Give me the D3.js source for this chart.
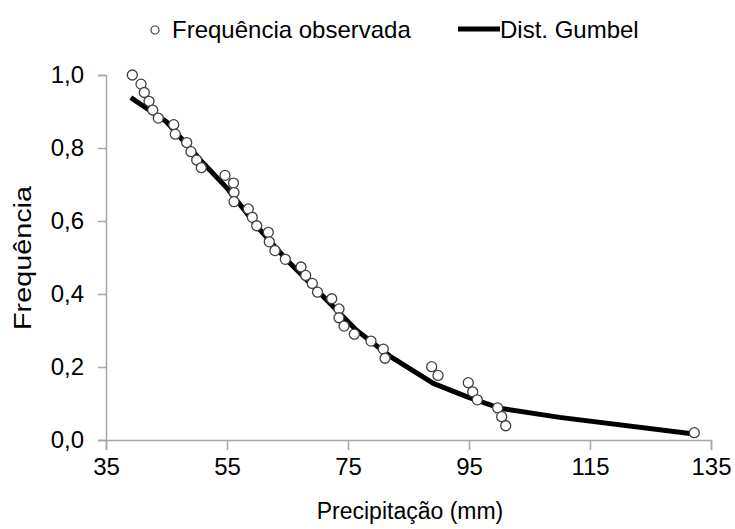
<!DOCTYPE html>
<html><head><meta charset="utf-8">
<script src="https://cdn.jsdelivr.net/npm/d3@7"></script>
<style>body{margin:0;background:#fff}svg{display:block}text{font-family:"Liberation Sans",Arial,sans-serif;fill:#000}</style>
</head><body><svg id="c" width="735" height="529"></svg>
<script>
const obsPrecip = [39.35,40.79,41.33,42.11,42.72,43.64,46.19,46.45,48.34,49.05,49.99,50.75,54.67,56.07,56.16,56.16,58.52,59.18,59.91,61.83,61.99,62.93,64.64,67.23,68.01,69.10,69.96,72.31,73.51,73.51,74.34,76.04,78.80,80.83,81.12,88.83,89.88,94.88,95.61,96.37,99.74,100.40,101.07,132.24];
const obsFreq = [1.0,0.975,0.952,0.928,0.904,0.882,0.864,0.838,0.815,0.790,0.767,0.746,0.725,0.704,0.678,0.653,0.633,0.610,0.587,0.569,0.543,0.519,0.495,0.474,0.451,0.429,0.405,0.387,0.359,0.335,0.312,0.290,0.271,0.249,0.224,0.201,0.177,0.157,0.132,0.110,0.088,0.064,0.039,0.020];
const gumbelPrecip = [39.1,45.0,51.1,55.0,60.5,64.9,70.9,76.4,81.9,89.1,94.6,100.1,110.0,131.5];
const gumbelFreq = [0.938,0.872,0.758,0.690,0.575,0.493,0.393,0.301,0.230,0.155,0.119,0.087,0.062,0.018];
const xTicks = [35,55,75,95,115,135];
const yTicks = [0,0.2,0.4,0.6,0.8,1.0];
const legendLabels = ["Frequência observada","Dist. Gumbel"];
const xTitle = "Precipitação (mm)";
const yTitle = "Frequência";

const svg = d3.select("#c");
const x = d3.scaleLinear().domain([35,135]).range([106,711]);
const y = d3.scaleLinear().domain([0,1]).range([440,75]);
const fmt = d => d3.format(".1f")(d).replace(".",",");
const axisColor = "#a6a6a6";

const xa = svg.append("g").attr("transform","translate(0,440)")
  .call(d3.axisBottom(x).tickValues(xTicks).tickSize(10).tickPadding(8).tickFormat(d3.format("d")));
const ya = svg.append("g").attr("transform","translate(106,0)")
  .call(d3.axisLeft(y).tickValues(yTicks).tickSize(8).tickPadding(14).tickFormat(fmt));
[xa,ya].forEach(a=>{
  a.select(".domain").attr("stroke",axisColor).attr("stroke-width",1.5);
  a.selectAll(".tick line").attr("stroke",axisColor).attr("stroke-width",1.5);
  a.selectAll(".tick text").attr("font-size",24).attr("font-family","Liberation Sans, Arial, sans-serif").attr("fill","#000");
});

const line = d3.line().x((d,i)=>x(gumbelPrecip[i])).y((d,i)=>y(gumbelFreq[i]));
svg.append("path").datum(gumbelPrecip).attr("d",line).attr("fill","none")
  .attr("stroke","#000").attr("stroke-width",5).attr("stroke-linejoin","round");

svg.append("g").selectAll("circle").data(obsPrecip).join("circle")
  .attr("cx",d=>x(d)).attr("cy",(d,i)=>y(obsFreq[i])).attr("r",5)
  .attr("fill","#fff").attr("stroke","#404040").attr("stroke-width",1.3);

// legend
svg.append("circle").attr("cx",155).attr("cy",30).attr("r",4).attr("fill","#fff").attr("stroke","#404040").attr("stroke-width",1.2);
svg.append("text").attr("x",172).attr("y",38).attr("font-size",24).text(legendLabels[0]);
svg.append("line").attr("x1",458).attr("x2",500).attr("y1",29).attr("y2",29).attr("stroke","#000").attr("stroke-width",5);
svg.append("text").attr("x",500).attr("y",38).attr("font-size",24).text(legendLabels[1]);

svg.append("text").attr("x",410).attr("y",519).attr("text-anchor","middle").attr("font-size",23).text(xTitle);
svg.append("text").attr("transform","translate(31,258) rotate(-90) scale(1.2,1)").attr("text-anchor","middle").attr("font-size",24).text(yTitle);
</script></body></html>
